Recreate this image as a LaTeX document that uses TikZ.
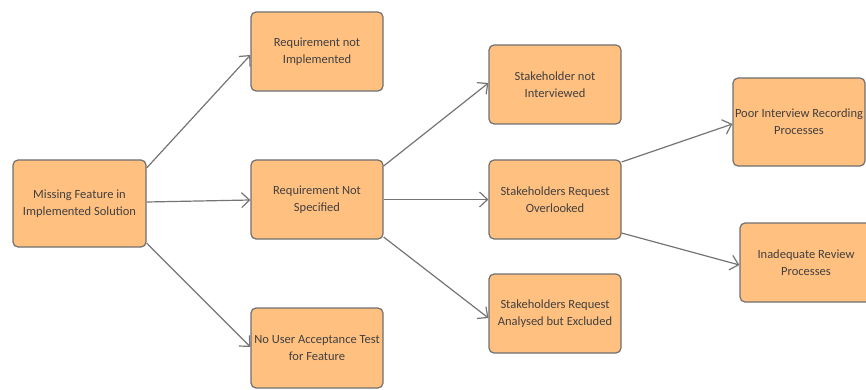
\documentclass[tikz,border=0pt]{standalone}
\usepackage{fontspec}
\setmainfont{Carlito}
\usetikzlibrary{arrows.meta}
\definecolor{boxfill}{HTML}{FFC080}
\definecolor{boxline}{HTML}{707070}
\definecolor{txt}{HTML}{404040}
\definecolor{arrline}{HTML}{747474}
\begin{document}
\begin{tikzpicture}[x=1pt,y=-1pt,
  cause/.style={draw=boxline,fill=boxfill,line width=1.2pt,rounded corners=5pt,
    minimum width=132pt,minimum height=79pt,align=center,inner sep=0pt,
    text=txt,font=\fontsize{12.5}{17}\selectfont},
  arr/.style={draw=arrline,line width=1.2pt,-{Straight Barb[length=8pt,width=15pt,line width=1.2pt]}}]
\useasboundingbox (0,0) rectangle (866,390);
\node[cause,minimum width=133pt,minimum height=87pt] (m) at (79.5,203.5) {Missing Feature in\\Implemented Solution};
\node[cause] (rni) at (317,51.5) {Requirement not\\Implemented};
\node[cause] (rns) at (317,199.5) {Requirement Not\\Specified};
\node[cause,minimum height=80pt] (nuat) at (317,348) {No User Acceptance Test\\for Feature};
\node[cause] (sni) at (555,84.5) {Stakeholder not\\Interviewed};
\node[cause] (sro) at (555,199.5) {Stakeholders Request\\Overlooked};
\node[cause] (sra) at (555,313.5) {Stakeholders Request\\Analysed but Excluded};
\node[cause,minimum height=88pt] (pir) at (799,122) {Poor Interview Recording\\Processes};
\node[cause] (irp) at (806,262.5) {Inadequate Review\\Processes};
\draw[arr] ([yshift=35.5pt]m.east) -- ([yshift=-3.5pt]rni.west);
\draw[arr] ([yshift=1.5pt]m.east) -- ([yshift=-0.5pt]rns.west);
\draw[arr] ([yshift=-39.5pt]m.east) -- ([yshift=1pt]nuat.west);
\draw[arr] ([yshift=33.5pt]rns.east) -- ([yshift=1.5pt]sni.west);
\draw[arr] (rns.east) -- (sro.west);
\draw[arr] ([yshift=-37.5pt]rns.east) -- ([yshift=-4.5pt]sra.west);
\draw[arr] ([yshift=37.5pt]sro.east) -- ([yshift=-2pt]pir.west);
\draw[arr] ([yshift=-33.5pt]sro.east) -- ([yshift=-2.5pt]irp.west);
\end{tikzpicture}
\end{document}
